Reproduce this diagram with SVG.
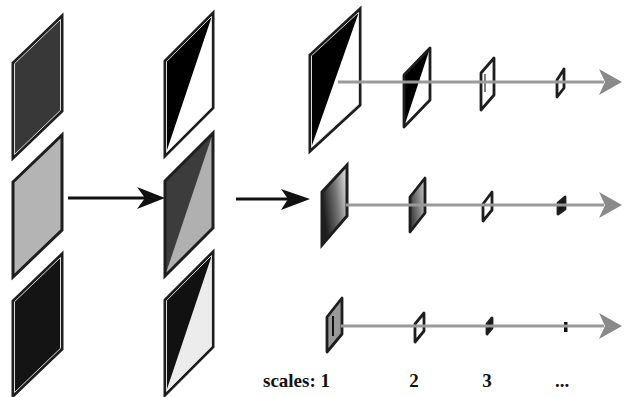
<svg xmlns="http://www.w3.org/2000/svg" width="624" height="397" viewBox="0 0 624 397">
<style>
.o{stroke:#1e1e1e;stroke-width:3;stroke-linejoin:miter}
.s{stroke:#1e1e1e;stroke-width:2.8;stroke-linejoin:round}
.in{fill:none;stroke:#d8d8d8;stroke-width:1}
.gl{stroke:#9a9a9a;stroke-width:3;fill:none}
.gh{fill:#8a8a8a}
.bl{stroke:#111;stroke-width:3;fill:none}
.t{font-family:"Liberation Serif",serif;font-weight:bold;font-size:19px;fill:#111}
</style>
<defs>
<linearGradient id="g1" x1="0" y1="0.4" x2="1" y2="0">
<stop offset="0" stop-color="#1e1e1e"/>
<stop offset="0.5" stop-color="#777"/>
<stop offset="1" stop-color="#eee"/>
</linearGradient>
<linearGradient id="g2" x1="0" y1="0.4" x2="1" y2="0">
<stop offset="0" stop-color="#444"/>
<stop offset="1" stop-color="#ccc"/>
</linearGradient>
</defs>
<g id="in1"><polygon class="o" fill="#383838" points="13,63 62,16 62,111 13,158"/><polygon class="in" points="14.5,63.7 60.5,19.5 60.5,110.3 14.5,154.5"/></g>
<g id="in2"><polygon class="o" fill="#b4b4b4" points="13,182 62,135 62,230 13,277"/></g>
<g id="in3"><polygon class="o" fill="#141414" points="13,301 62,254 62,349 13,396"/><polygon class="in" points="14.5,301.7 60.5,257.5 60.5,348.3 14.5,392.5"/></g>
<g id="mid1"><polygon fill="#fff" points="165,61 213,13 213,108 165,156"/><polygon fill="#000" points="165,61 213,13 165,156"/><polygon class="o" fill="none" points="165,61 213,13 213,108 165,156"/><polygon class="in" points="166.5,61.7 211.5,16.5 211.5,107.3 166.5,152.5"/></g>
<g id="mid2"><polygon fill="#b0b0b0" points="165,181 213,133 213,228 165,276"/><polygon fill="#3c3c3c" points="165,181 213,133 165,276"/><polygon class="o" fill="none" points="165,181 213,133 213,228 165,276"/></g>
<g id="mid3"><polygon fill="#ececec" points="165,300 213,252 213,347 165,395"/><polygon fill="#111" points="165,300 213,252 165,395"/><polygon class="o" fill="none" points="165,300 213,252 213,347 165,395"/><polygon class="in" points="166.5,300.7 211.5,255.5 211.5,346.3 166.5,391.5"/></g>
<g id="r1s1"><polygon fill="#fff" points="310,55 360,9 360,105 310,151"/><polygon fill="#000" points="310,55 360,9 310,151"/><polygon class="o" fill="none" points="310,55 360,9 360,105 310,151"/><polygon class="in" points="311.5,55.7 358.5,12.5 358.5,104.3 311.5,147.5"/></g>
<g id="r1s2"><polygon fill="#fff" points="404,75 430,48 430,100 404,127"/><polygon fill="#000" points="404,75 430,48 404,127"/><polygon class="s" fill="none" points="404,75 430,48 430,100 404,127"/></g>
<g id="r1s3"><polygon class="s" fill="#fff" points="481,73 494,58 494,95 481,110"/><line x1="485" y1="74" x2="485" y2="92" stroke="#555" stroke-width="1.5"/></g>
<g id="r1s4"><polygon class="s" fill="#fff" points="557,80 564,69 564,88 557,97"/></g>
<g id="r2s1"><polygon class="o" fill="url(#g1)" points="322,192 347,165 347,216 322,245"/></g>
<g id="r2s2"><polygon class="s" fill="url(#g2)" points="410,197 425,178 425,213 410,232"/></g>
<g id="r2s3"><polygon class="s" fill="#fff" points="483,204 492,192 492,210 483,221"/></g>
<g id="r2s4"><polygon class="s" fill="#111" points="558,203 565,197 565,209 558,214"/></g>
<g id="r3s1"><polygon class="s" fill="#999" points="327,317 342,298 342,334 327,352"/><line x1="333" y1="316" x2="333" y2="336" stroke="#111" stroke-width="2"/></g>
<g id="r3s2"><polygon class="s" fill="#fff" points="415,324 424,313 424,331 415,342"/></g>
<g id="r3s3"><polygon class="s" fill="#111" points="487,324 492,318 492,328 487,334"/></g>
<g id="r3s4"><rect x="564" y="322" width="3.5" height="10" fill="#111"/></g>
<g id="connectors">
<line class="bl" x1="68" y1="198" x2="146" y2="198"/>
<path d="M165,198 L137,187 L145,198 L137,209 Z" fill="#111"/>
<line class="bl" x1="236" y1="199" x2="290" y2="199"/>
<path d="M310,199 L281,189 L288,199 L281,210 Z" fill="#111"/>
<line class="gl" x1="338" y1="82" x2="604" y2="82"/>
<path class="gh" d="M622,82 L599,69 L605,82 L599,95 Z"/>
<line class="gl" x1="346" y1="205" x2="604" y2="205"/>
<path class="gh" d="M622,205 L599,192 L605,205 L599,218 Z"/>
<line class="gl" x1="341" y1="326" x2="604" y2="326"/>
<path class="gh" d="M622,326 L599,313 L605,326 L599,339 Z"/>
</g>
<text class="t" x="263" y="387">scales: 1</text>
<text class="t" x="414" y="387" text-anchor="middle">2</text>
<text class="t" x="487" y="387" text-anchor="middle">3</text>
<text class="t" x="562" y="387" text-anchor="middle">...</text>
</svg>
